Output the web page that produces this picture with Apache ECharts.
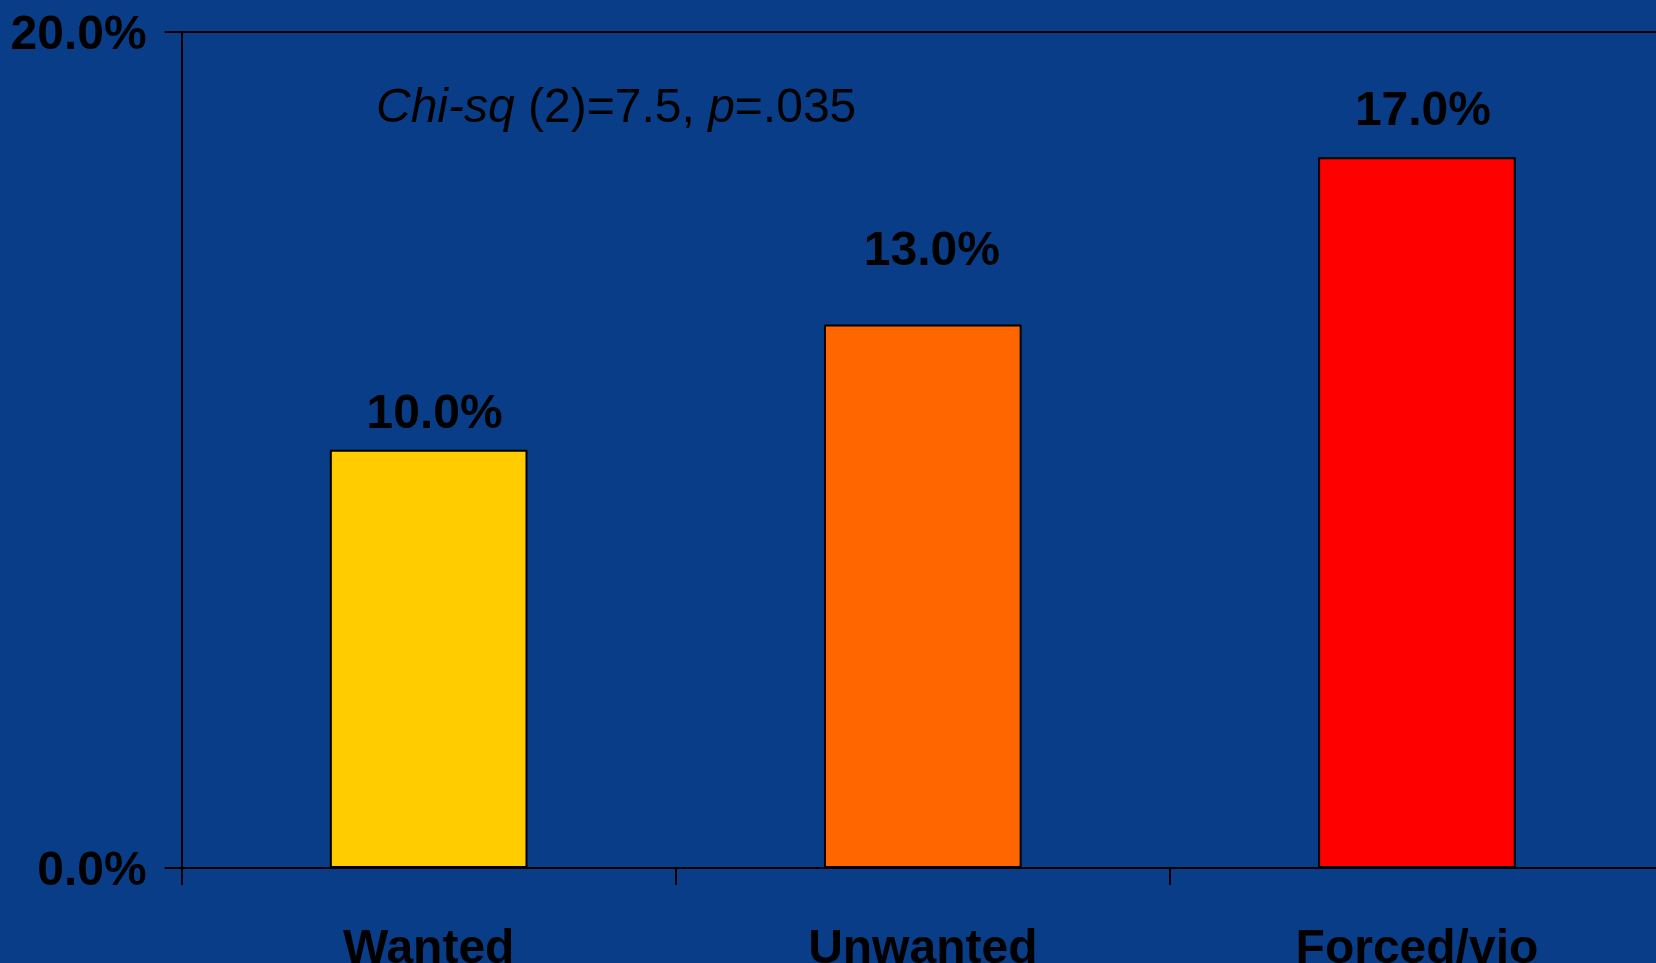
<!DOCTYPE html>
<html>
<head>
<meta charset="utf-8">
<script src="https://cdn.jsdelivr.net/npm/echarts@6/dist/echarts.min.js"></script>
<style>
  html, body { margin: 0; padding: 0; background: #093d87; }
  #chart { width: 1656px; height: 963px; }
</style>
</head>
<body>
<div id="chart"></div>
<script>
// ---- data ----
const categories = ['Wanted', 'Unwanted', 'Forced/vio'];
const percentValues = [10.0, 13.0, 17.0];
const yTickValues = [0, 20];
const annotationText = 'Chi-sq (2)=7.5, p=.035';

// ---- styles (not data) ----
const barColors = ['#FFCC00', '#FF6600', '#FF0000'];
const labelDistance = [11, 49, 21];
const labelShiftX = [6, 9, 6];
const FONT = '"Liberation Sans", Arial, Helvetica, sans-serif';

const chart = echarts.init(document.getElementById('chart'), null, { renderer: 'canvas' });

const seriesData = percentValues.map((v, i) => ({
  value: v,
  itemStyle: { color: barColors[i] },
  label: { distance: labelDistance[i], offset: [labelShiftX[i], 0] }
}));

chart.setOption({
  backgroundColor: '#093d87',
  animation: false,
  title: {
    left: 371,
    top: 80,
    text: '{i|Chi-sq} (2)=7.5, {i|p}=.035',
    textStyle: {
      fontFamily: FONT,
      fontSize: 48,
      fontWeight: 'normal',
      color: '#000',
      rich: {
        i: { fontFamily: FONT, fontSize: 48, fontStyle: 'italic', color: '#000' }
      }
    }
  },
  grid: { left: 181.6, right: -8, top: 31.7, bottom: 95, containLabel: false, outerBoundsMode: 'none' },
  xAxis: {
    type: 'category',
    data: categories,
    axisLine: { show: true, lineStyle: { color: '#000', width: 2 } },
    axisTick: { show: true, alignWithLabel: false, length: 17, lineStyle: { color: '#000', width: 2 } },
    axisLabel: {
      color: '#000', fontFamily: FONT, fontWeight: 'bold', fontSize: 48,
      margin: 58, interval: 0
    },
    splitLine: { show: false }
  },
  yAxis: {
    type: 'value',
    min: yTickValues[0],
    max: yTickValues[yTickValues.length - 1],
    interval: yTickValues[1] - yTickValues[0],
    axisLine: { show: true, lineStyle: { color: '#000', width: 2 } },
    axisTick: { show: true, inside: false, length: 17, lineStyle: { color: '#000', width: 2 } },
    axisLabel: {
      color: '#000', fontFamily: FONT, fontWeight: 'bold', fontSize: 48, margin: 35,
      verticalAlign: 'top', lineHeight: 8,
      formatter: v => v.toFixed(1) + '%'
    },
    splitLine: { show: true, lineStyle: { color: '#000', width: 2 } }
  },
  series: [{
    type: 'bar',
    data: seriesData,
    barWidth: '40%',
    itemStyle: { borderColor: '#000', borderWidth: 2 },
    label: {
      show: true,
      position: 'top',
      color: '#000',
      fontFamily: FONT,
      fontWeight: 'bold',
      fontSize: 48,
      formatter: p => p.value.toFixed(1) + '%'
    }
  }]
});
</script>
</body>
</html>
